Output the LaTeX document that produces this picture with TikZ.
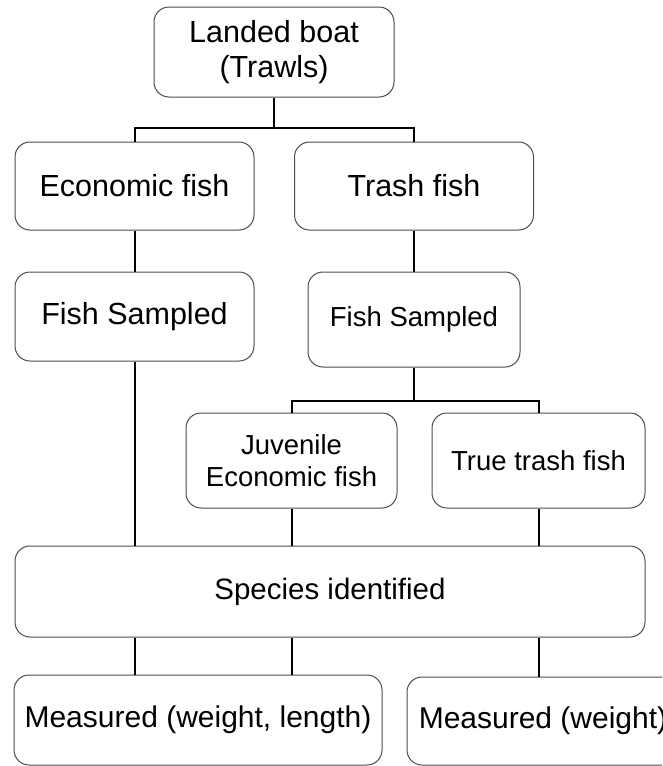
\documentclass[tikz,border=0pt]{standalone}
\usepackage{fontspec}
\setmainfont{Liberation Sans}
\begin{document}
\begin{tikzpicture}[x=1pt, y=-1pt,
	box/.style={draw=black!70, line width=1pt, rounded corners=15pt, align=center, inner sep=0pt},
	big/.style={font=\fontsize{30.5}{35}\selectfont},
	small/.style={font=\fontsize{27.5}{32}\selectfont},
	link/.style={draw=black, line width=2pt}]
	\clip (0,0) rectangle (662,766);
	\useasboundingbox (0,0) rectangle (662,766);

	\node (land) [box, big, minimum width=240pt, minimum height=90pt] at (274,52) {Landed boat\\(Trawls)};
	\node (econ) [box, big, minimum width=239pt, minimum height=88pt] at (134.5,186) {Economic fish};
	\node (trash) [box, big, minimum width=239pt, minimum height=88pt] at (414,186) {Trash fish};
	\node (sampL) [box, big, minimum width=239pt, minimum height=89pt] at (134.5,316.5) {Fish Sampled};
	\node (sampR) [box, small, minimum width=212pt, minimum height=95pt] at (414,319.5) {Fish Sampled};
	\node (juv) [box, small, minimum width=211pt, minimum height=95pt] at (291.5,460.5) {Juvenile\\Economic fish};
	\node (ttf) [box, small, minimum width=213pt, minimum height=95pt] at (538.5,460.5) {True trash fish};
	\node (spec) [box, font=\fontsize{29.5}{34}\selectfont, minimum width=630pt, minimum height=91pt] at (330,591.5) {Species identified};
	\node (measL) [box, font=\fontsize{30}{34}\selectfont, minimum width=368pt, minimum height=90pt] at (198,720) {Measured (weight, length)};
	\node (measR) [box, font=\fontsize{30}{34}\selectfont, minimum width=272pt, minimum height=88pt] at (543,721) {Measured (weight)};

	\coordinate (j1) at (274,128);
	\coordinate (j2) at (414,401);

	\path[link]
		(land.south) -- (j1)
		(econ.north) |- (j1) -| (trash.north)
		(econ.south) -- (sampL.north)
		(trash.south) -- (sampR.north)
		(sampR.south) -- (j2)
		(juv.north) |- (j2) -| (ttf.north)
		(sampL.south) -- (sampL.south |- spec.north)
		(juv.south) -- (juv.south |- spec.north)
		(ttf.south) -- (ttf.south |- spec.north)
		(sampL.south |- spec.south) -- (sampL.south |- measL.north)
		(juv.south |- spec.south) -- (juv.south |- measL.north)
		(ttf.south |- spec.south) -- (ttf.south |- measR.north);

\end{tikzpicture}
\end{document}
